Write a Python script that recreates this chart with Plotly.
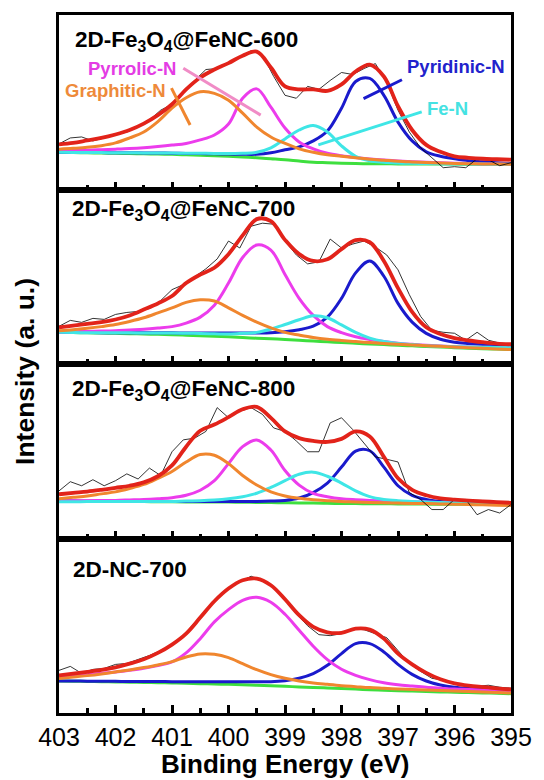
import plotly.graph_objects as go
from plotly.subplots import make_subplots

# ---------------- data (intensity in arbitrary units) ----------------
energy_fit = [403.0, 402.75, 402.5, 402.25, 402.0, 401.75, 401.5, 401.25, 401.0, 400.75,
              400.5, 400.25, 400.0, 399.75, 399.5, 399.25, 399.0, 398.75, 398.5, 398.25,
              398.0, 397.75, 397.5, 397.25, 397.0, 396.75, 396.5, 396.25, 396.0, 395.75,
              395.5, 395.25, 395.0]
energy_raw = [403.0, 402.8, 402.6, 402.4, 402.2, 402.0, 401.8, 401.6, 401.4, 401.2,
              401.0, 400.8, 400.6, 400.4, 400.2, 400.0, 399.8, 399.6, 399.4, 399.2,
              399.0, 398.8, 398.6, 398.4, 398.2, 398.0, 397.8, 397.6, 397.4, 397.2,
              397.0, 396.8, 396.6, 396.4, 396.2, 396.0, 395.8, 395.6, 395.4, 395.2, 395.0]

sample_names = ["2D-Fe<sub>3</sub>O<sub>4</sub>@FeNC-600",
                "2D-Fe<sub>3</sub>O<sub>4</sub>@FeNC-700",
                "2D-Fe<sub>3</sub>O<sub>4</sub>@FeNC-800",
                "2D-NC-700"]
component_names = ["Pyridinic-N", "Fe-N", "Pyrrolic-N", "Graphitic-N"]
tick_values = [403, 402, 401, 400, 399, 398, 397, 396, 395]

# --- 2D-Fe3O4@FeNC-600 ---
raw_600 = [46, 52, 53, 49, 52, 55, 58, 63, 70, 80, 86, 97, 110, 121, 122, 128, 133, 140, 136, 114,
           95, 92, 104, 101, 110, 118, 116, 122, 127, 108, 80, 58, 42, 32, 22, 23, 22, 31, 30, 24, 27]
fit_600 = [45.5, 47, 49.5, 52, 55.5, 60, 66.5, 75, 86, 101, 113, 121, 127.5, 135, 139, 123, 104,
           101, 101, 99.5, 106, 119, 126, 114, 84, 60, 45, 38, 33.5, 32, 31, 30.5, 30]
base_600 = [37.5, 37.3, 37.0, 36.8, 36.5, 36.3, 36.0, 35.8, 35.5, 35.0, 34.5, 34.0, 33.5, 32.8,
            32.0, 31.0, 30.0, 28.7, 27.5, 27.0, 26.5, 26.2, 26.0, 25.9, 25.8, 25.7, 25.7, 25.6,
            25.6, 25.5, 25.5, 25.5, 25.5]
pyridinic_600 = [37.5, 37.4, 37.3, 37.2, 37.1, 37.0, 36.9, 36.8, 36.6, 36.4, 36.2, 36.0, 35.8,
                 35.5, 35.5, 37, 40, 43, 49, 59, 82, 109, 112, 95, 68, 49, 38, 33.5, 31, 29, 28, 27, 26]
fen_600 = [37.5, 37.4, 37.3, 37.2, 37.1, 37.0, 36.9, 36.8, 36.7, 36.6, 36.5, 36.4, 36.4, 36.5,
           37.5, 42, 51, 60, 64.5, 58, 44, 33.5, 29, 27.5, 26.8, 26.4, 26.1, 25.9, 25.8, 25.7,
           25.6, 25.5, 25.5]
pyrrolic_600 = [39, 39.3, 39.7, 40.2, 40.7, 41.3, 42.2, 43.4, 44.8, 46.5, 50, 55, 66, 92, 101.5,
                83, 62, 48, 41, 36.5, 34, 32.2, 30.8, 29.7, 28.8, 28, 27.4, 26.9, 26.5, 26.1,
                25.8, 25.6, 25.5]
graphitic_600 = [40.7, 41.5, 42.5, 44.2, 47, 52, 58, 68.5, 82, 92.5, 98.5, 97, 90, 77, 63, 53,
                 46.5, 41, 37.5, 35, 33.5, 32, 30.5, 29.5, 28.5, 27.8, 27.2, 26.7, 26.3, 26,
                 25.8, 25.6, 25.5]

# --- 2D-Fe3O4@FeNC-700 ---
raw_700 = [38, 44, 42, 46, 45, 50, 52, 53, 56, 64, 75, 80, 88, 96, 106, 124, 117, 139, 142, 141,
           124, 110, 101, 103, 126, 117, 121, 124, 118, 110, 95, 70, 48, 34, 32, 31, 24, 32, 24, 21, 20]
fit_700 = [37.0, 38.8, 40.5, 42.2, 44.9, 49.0, 54.9, 61.1, 68.6, 81.6, 90.2, 97.1, 110.8, 129.7,
           146.1, 144.1, 125.2, 110.8, 103.9, 105.6, 115.9, 124.9, 122.8, 103.9, 76.5, 52.5,
           37.0, 30.2, 26.1, 23.7, 22.0, 20.6, 19.9]
base_700 = [31.9, 31.7, 31.4, 31.2, 30.9, 30.6, 30.2, 29.9, 29.5, 29.0, 28.5, 27.9, 27.4, 26.7,
            26.0, 25.4, 24.7, 23.9, 23.1, 22.4, 21.6, 20.9, 20.2, 19.6, 18.9, 18.3, 17.7, 17.1,
            16.5, 16.0, 15.5, 15.1, 14.7]
pyridinic_700 = [31.9, 31.8, 31.7, 31.6, 31.6, 31.5, 31.5, 31.4, 31.4, 31.3, 31.3, 31.2, 31.2,
                 31.2, 31.3, 31.6, 32.6, 34.6, 38.1, 47.3, 66.2, 91.9, 103.9, 88.5, 61.1, 42.2,
                 30.9, 25.0, 22.0, 20.6, 19.6, 18.9, 18.2]
fen_700 = [31.9, 31.7, 31.6, 31.5, 31.5, 31.4, 31.3, 31.2, 31.2, 31.0, 30.8, 30.5, 30.2, 30.9,
           31.9, 35.3, 39.8, 44.6, 48.7, 46.6, 39.4, 31.9, 26.1, 22.6, 20.6, 19.6, 18.5, 18.0,
           17.5, 17.2, 17.0, 16.7, 16.5]
pyrrolic_700 = [31.9, 32.4, 32.9, 33.2, 33.6, 34.3, 35.0, 36.2, 37.7, 41.2, 47.3, 59.3, 81.6,
                107.4, 120.0, 114.9, 90.2, 66.2, 49.0, 37.7, 31.6, 27.4, 24.7, 22.6, 20.9, 19.8,
                18.9, 18.2, 17.5, 17.1, 16.8, 16.6, 16.5]
graphitic_700 = [33.6, 34.6, 36.0, 37.7, 39.8, 42.9, 46.6, 51.5, 56.6, 62.1, 64.8, 63.5, 56.6,
                 49.0, 42.2, 36.4, 31.9, 29.2, 26.8, 25.0, 23.7, 22.6, 21.6, 20.7, 19.9, 19.2,
                 18.5, 17.8, 17.2, 16.5, 15.8, 15.2, 14.7]

# --- 2D-Fe3O4@FeNC-800 ---
raw_800 = [48, 57.3, 53.2, 59.3, 53.2, 58.3, 65.2, 60, 71, 63.5, 87.5, 99.5, 101.2, 108, 132,
           121.8, 128.6, 132, 125.2, 111.5, 108, 98.4, 87.5, 87.5, 116.6, 121.8, 109.8, 96, 82.3,
           79.9, 77.2, 46.3, 39.4, 29.2, 29.2, 39.4, 39.4, 24, 29.2, 25.7, 34.3]
fit_800 = [44.6, 46.0, 47.3, 49.1, 51.1, 53.2, 56.6, 62.8, 73.7, 92.6, 108.7, 114.9, 122.4,
           130.3, 132.7, 121.7, 108.0, 101.2, 98.4, 97.4, 100.5, 108.0, 102.9, 82.3, 60.7, 49.1,
           43.6, 40.5, 39.1, 38.1, 37.4, 36.7, 36.0]
base_800 = [37.7, 37.6, 37.5, 37.4, 37.4, 37.3, 37.2, 37.1, 37.0, 36.9, 36.8, 36.8, 36.7, 36.5,
            36.4, 36.2, 36.0, 35.8, 35.7, 35.5, 35.3, 35.2, 35.1, 35.0, 34.9, 34.8, 34.7, 34.6,
            34.6, 34.5, 34.4, 34.4, 34.3]
pyridinic_800 = [37.7, 37.7, 37.6, 37.6, 37.5, 37.5, 37.5, 37.4, 37.4, 37.4, 37.4, 37.4, 37.4,
                 37.4, 37.4, 37.7, 38.4, 40.8, 46.3, 55.9, 72.0, 88.2, 88.5, 72.0, 53.2, 43.6,
                 39.4, 37.4, 36.4, 36.0, 35.7, 35.5, 35.3]
fen_800 = [37.0, 37.1, 37.2, 37.3, 37.3, 37.3, 37.4, 37.4, 37.4, 37.8, 38.1, 38.8, 40.1, 42.2,
           45.6, 51.5, 58.3, 64.8, 66.9, 62.8, 55.9, 48.0, 42.2, 39.4, 38.1, 37.4, 36.7, 36.3,
           36.0, 35.8, 35.6, 35.4, 35.3]
pyrrolic_800 = [37.7, 38.0, 38.2, 38.3, 38.4, 38.9, 39.4, 40.2, 41.2, 43.6, 48.7, 58.3, 75.5,
                92.6, 99.4, 89.2, 68.6, 53.9, 45.6, 42.2, 40.1, 39.1, 38.4, 37.9, 37.4, 37.1,
                36.7, 36.3, 36.0, 35.8, 35.6, 35.4, 35.3]
graphitic_800 = [40.1, 41.5, 42.9, 45.0, 47.0, 50.4, 54.5, 60.7, 67.6, 77.2, 84.7, 84.0, 75.5,
                 63.5, 53.9, 47.0, 42.9, 40.5, 39.1, 38.2, 37.4, 36.9, 36.4, 36.0, 35.7, 35.4,
                 35.2, 34.9, 34.6, 34.3, 34.0, 33.6, 33.3]

# --- 2D-NC-700 (no Fe-N component) ---
raw_nc = [43, 47, 40, 44, 45, 49, 50, 54, 58, 63, 69, 78, 91, 102, 116, 125, 132, 138, 133, 127,
          113, 100, 88, 79, 78, 80, 85, 84, 80, 76, 63, 50, 42, 35, 33, 30, 28, 27, 28, 26, 25]
fit_nc = [38.0, 39.7, 41.4, 43.4, 46.1, 49.8, 54.2, 60.6, 69.0, 80.1, 96.2, 112.7, 125.5, 133.9,
          135.6, 128.9, 114.7, 98.6, 86.8, 81.4, 80.8, 85.1, 84.1, 75.0, 59.9, 49.1, 40.4, 34.0,
          29.9, 27.6, 26.2, 24.9, 23.9]
base_nc = [32.3, 32.1, 31.8, 31.6, 31.3, 31.1, 30.8, 30.6, 30.3, 30.0, 29.6, 29.3, 28.9, 28.4,
           27.9, 27.4, 26.9, 26.3, 25.8, 25.2, 24.6, 24.1, 23.5, 23.0, 22.5, 22.1, 21.7, 21.3,
           20.9, 20.6, 20.2, 19.9, 19.5]
pyridinic_nc = [32.3, 32.2, 32.1, 32.0, 31.9, 31.8, 31.8, 31.7, 31.6, 31.6, 31.6, 31.6, 31.6,
                31.6, 31.6, 31.6, 32.6, 35.0, 39.7, 48.1, 59.9, 70.0, 70.0, 61.6, 49.1, 39.0,
                32.3, 28.3, 25.9, 24.6, 23.9, 23.2, 22.9]
pyrrolic_nc = [37.0, 37.7, 38.7, 40.0, 41.4, 43.1, 45.1, 47.8, 51.5, 60.6, 75.0, 91.9, 104.3,
               113.7, 116.8, 111.7, 99.6, 83.5, 67.3, 53.8, 44.1, 38.0, 33.7, 30.6, 28.6, 27.2,
               25.9, 25.0, 24.2, 23.7, 23.2, 22.8, 22.5]
graphitic_nc = [34.7, 36.3, 37.7, 39.4, 41.4, 43.4, 45.8, 48.5, 51.8, 56.5, 59.6, 59.2, 55.9,
                49.8, 43.7, 38.7, 35.0, 32.3, 30.3, 28.9, 27.6, 26.6, 25.6, 24.9, 24.2, 23.7,
                23.2, 22.7, 22.2, 21.7, 21.2, 20.7, 20.2]

panels = [
    dict(raw=raw_600, fit=fit_600, base=base_600, pyridinic=pyridinic_600, fen=fen_600,
         pyrrolic=pyrrolic_600, graphitic=graphitic_600),
    dict(raw=raw_700, fit=fit_700, base=base_700, pyridinic=pyridinic_700, fen=fen_700,
         pyrrolic=pyrrolic_700, graphitic=graphitic_700),
    dict(raw=raw_800, fit=fit_800, base=base_800, pyridinic=pyridinic_800, fen=fen_800,
         pyrrolic=pyrrolic_800, graphitic=graphitic_800),
    dict(raw=raw_nc, fit=fit_nc, base=base_nc, pyridinic=pyridinic_nc, fen=None,
         pyrrolic=pyrrolic_nc, graphitic=graphitic_nc),
]

# ---------------- styling ----------------
C_RED = "#E2231A"
C_BLUE = "#1A1ACC"
C_MAG = "#EC3CEC"
C_CYAN = "#3FE6E6"
C_ORANGE = "#F0862E"
C_GREEN = "#3EDF3E"
FONT = "Liberation Sans, Arial, sans-serif"

fig = make_subplots(rows=4, cols=1, shared_xaxes=True, vertical_spacing=0)

for i, p in enumerate(panels):
    row = i + 1
    def add(y, color, width, shape="spline", x=energy_fit):
        fig.add_trace(go.Scatter(x=x, y=y, mode="lines",
                                 line=dict(color=color, width=width, shape=shape),
                                 showlegend=False, hoverinfo="skip"), row=row, col=1)
    add(p["base"], C_GREEN, 3)
    add(p["pyridinic"], C_BLUE, 3)
    add(p["pyrrolic"], C_MAG, 3)
    if p["fen"] is not None:
        add(p["fen"], C_CYAN, 3)
    add(p["graphitic"], C_ORANGE, 3)
    add(p["raw"], "black", 0.8, shape="linear", x=energy_raw)
    add(p["fit"], C_RED, 3.8)

for r in range(1, 5):
    fig.update_xaxes(range=[403, 395], tickmode="array", tickvals=tick_values,
                     ticks="inside", ticklen=8, tickwidth=2.5, tickcolor="black",
                     minor=dict(ticks="inside", ticklen=5, tickwidth=2.5, tickcolor="black",
                                dtick=0.5, tick0=395),
                     showline=True, linewidth=2.5, linecolor="black", mirror=True,
                     showgrid=False, zeroline=False, row=r, col=1)
    fig.update_yaxes(range=[0, 176], showticklabels=False, ticks="", showgrid=False,
                     zeroline=False, showline=True, linewidth=2.5, linecolor="black",
                     mirror=True, row=r, col=1)
fig.update_xaxes(showticklabels=True, tickfont=dict(family=FONT, size=25, color="black"),
                 row=4, col=1)

annotations = []
title_pos = [(73, 40), (70, 209), (70, 390), (71, 569)]
for name, (px, py) in zip(sample_names, title_pos):
    annotations.append(dict(text="<b>" + name + "</b>", xref="paper", yref="paper",
                            x=(px - 59) / 458, y=(713 - py) / 699, xanchor="left",
                            yanchor="middle", showarrow=False,
                            font=dict(family=FONT, size=22.5, color="black")))

# component labels in the top panel (data coordinates of panel 1)
labels = [
    ("Pyrrolic-N", 401.7, 122, "#E43CE4"),
    ("Graphitic-N", 402.0, 100, "#EE8A3A"),
    ("Pyridinic-N", 395.97, 124, "#2222CC"),
    ("Fe-N", 396.13, 81.5, "#45E2E2"),
]
for txt, x, y, col in labels:
    annotations.append(dict(text="<b>" + txt + "</b>", xref="x", yref="y", x=x, y=y,
                            xanchor="center", yanchor="middle", showarrow=False,
                            font=dict(family=FONT, size=18.5, color=col)))

annotations.append(dict(text="<b>Binding Energy (eV)</b>", xref="paper", yref="paper",
                        x=(288 - 59) / 458, y=(713 - 764) / 699, xanchor="center",
                        yanchor="middle", showarrow=False,
                        font=dict(family=FONT, size=26, color="black")))
annotations.append(dict(text="<b>Intensity (a. u.)</b>", xref="paper", yref="paper",
                        x=(25 - 59) / 458, y=(713 - 371) / 699, xanchor="center",
                        yanchor="middle", textangle=-90, showarrow=False,
                        font=dict(family=FONT, size=26.5, color="black")))

pointers = [
    (400.8, 122.3, 399.43, 75, "#F08CC6"),
    (401.01, 102.3, 400.68, 65, C_ORANGE),
    (397.61, 91.7, 396.93, 110.7, C_BLUE),
    (398.41, 45, 396.58, 78.3, C_CYAN),
]
shapes = [dict(type="line", xref="x", yref="y", x0=a, y0=b, x1=c, y1=d,
               line=dict(color=col, width=3)) for a, b, c, d, col in pointers]

fig.update_layout(width=544, height=780, margin=dict(l=59, r=27, t=14, b=67),
                  paper_bgcolor="white", plot_bgcolor="white",
                  annotations=annotations, shapes=shapes, showlegend=False)

fig.write_html("out.html")
